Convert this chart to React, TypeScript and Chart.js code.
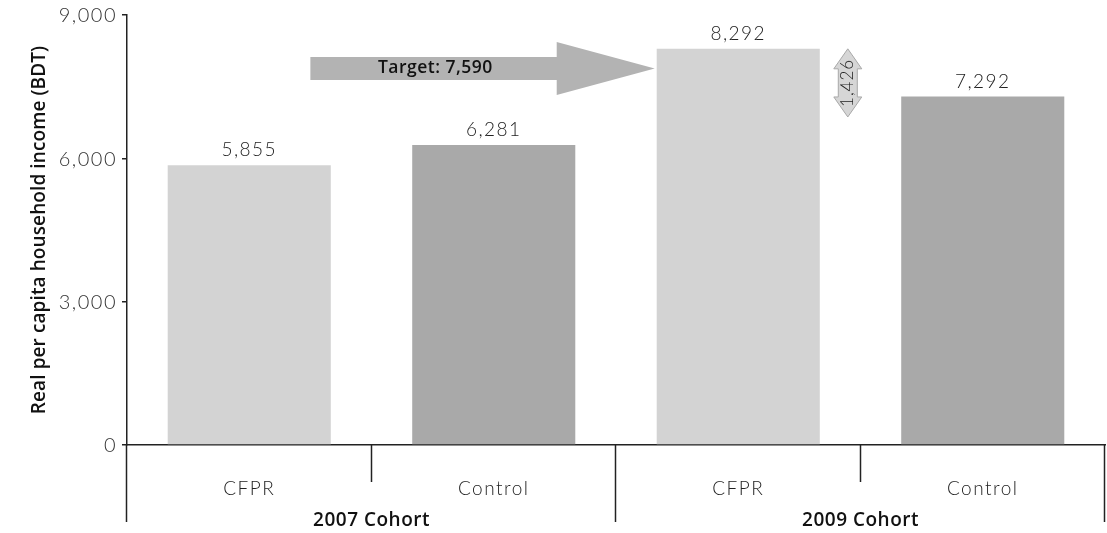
import React, { useEffect, useRef } from "react";
import { Chart, registerables } from "chart.js";

Chart.register(...registerables);

const categories = ["CFPR", "Control", "CFPR", "Control"];
const groups = ["2007 Cohort", "2009 Cohort"];
const values = [5855, 6281, 8292, 7292];
const barColors = ["#d3d3d3", "#a9a9a9", "#d3d3d3", "#a9a9a9"];
const yTicks = [0, 3000, 6000, 9000];
const targetLabel = "Target: 7,590";
const targetArrowLevel = 7880;
const difference = 1426;
const yTitle = "Real per capita household income (BDT)";

const LIGHT = "300 19px Lato, 'Open Sans', sans-serif";
const MED = (px: number) => `600 ${px}px 'Open Sans', 'Noto Sans', sans-serif`;

const fmt = (v: number) => v.toLocaleString("en-US");

function spaced(ctx: any, s: string) {
  try {
    ctx.letterSpacing = s;
  } catch (e) {}
}

const annotPlugin = {
  id: "annot",
  afterDraw(chart: any) {
    const ctx = chart.ctx;
    const area = chart.chartArea;
    const xs = chart.scales.x;
    const ys = chart.scales.y;
    const meta = chart.getDatasetMeta(0);
    const bars = meta.data;
    const catW = (area.right - area.left) / categories.length;
    ctx.save();

    // y tick labels
    ctx.fillStyle = "#333";
    ctx.font = "300 20px Lato, 'Open Sans', sans-serif";
    spaced(ctx, "1.5px");
    ctx.textAlign = "right";
    ctx.textBaseline = "middle";
    yTicks.forEach((v) => {
      ctx.fillText(fmt(v), area.left - 10, ys.getPixelForValue(v) + 1);
    });

    // value labels
    ctx.font = LIGHT;
    ctx.fillStyle = "#222";
    ctx.textAlign = "center";
    ctx.textBaseline = "alphabetic";
    bars.forEach((b: any, i: number) => {
      ctx.fillText(fmt(values[i]), b.x, b.y - 9);
    });

    // category labels
    ctx.textBaseline = "middle";
    categories.forEach((c, i) => {
      ctx.fillText(c, xs.getPixelForValue(i), area.bottom + 44);
    });
    spaced(ctx, "0.5px");
    ctx.font = MED(19);
    ctx.fillStyle = "#111";
    groups.forEach((g, gi) => {
      const x = (xs.getPixelForValue(gi * 2) + xs.getPixelForValue(gi * 2 + 1)) / 2;
      ctx.fillText(g, x, area.bottom + 76);
    });

    // separators
    ctx.strokeStyle = "#222";
    ctx.lineWidth = 1.5;
    for (let i = 0; i <= categories.length; i++) {
      const x = Math.round(area.left + i * catW) - 0.5;
      const outer = i % 2 === 0;
      ctx.beginPath();
      ctx.moveTo(x, area.bottom);
      ctx.lineTo(x, area.bottom + (outer ? 77 : 37));
      ctx.stroke();
    }

    // y title
    ctx.save();
    ctx.translate(40, (area.top + area.bottom) / 2);
    ctx.rotate(-Math.PI / 2);
    ctx.font = MED(19);
    spaced(ctx, "0.1px");
    ctx.fillStyle = "#111";
    ctx.textAlign = "center";
    ctx.textBaseline = "middle";
    ctx.fillText(yTitle, 0, 0);
    ctx.restore();

    // target arrow
    const b2: any = bars[2];
    const tipX = b2.x - b2.width / 2 - 2;
    const tailX = area.left + catW * 0.75;
    const cy = ys.getPixelForValue(targetArrowLevel);
    const headBase = tipX - 98;
    const sh = 11.5;
    const hh = 26.5;
    ctx.fillStyle = "#b3b3b3";
    ctx.beginPath();
    ctx.moveTo(tailX, cy - sh);
    ctx.lineTo(headBase, cy - sh);
    ctx.lineTo(headBase, cy - hh);
    ctx.lineTo(tipX, cy);
    ctx.lineTo(headBase, cy + hh);
    ctx.lineTo(headBase, cy + sh);
    ctx.lineTo(tailX, cy + sh);
    ctx.closePath();
    ctx.fill();
    ctx.fillStyle = "#111";
    ctx.font = MED(17.5);
    spaced(ctx, "0.5px");
    ctx.textAlign = "center";
    ctx.textBaseline = "middle";
    ctx.fillText(targetLabel, tailX + 125, cy);

    // difference double arrow
    const dx = b2.x + b2.width / 2 + 28;
    const yTop = ys.getPixelForValue(values[2]);
    const yBot = ys.getPixelForValue(values[2] - difference);
    const hl = 20;
    const sw = 9.5;
    const hw = 14;
    ctx.fillStyle = "#d6d6d6";
    ctx.strokeStyle = "#a8a8a8";
    ctx.lineWidth = 1;
    ctx.beginPath();
    ctx.moveTo(dx, yTop);
    ctx.lineTo(dx + hw, yTop + hl);
    ctx.lineTo(dx + sw, yTop + hl);
    ctx.lineTo(dx + sw, yBot - hl);
    ctx.lineTo(dx + hw, yBot - hl);
    ctx.lineTo(dx, yBot);
    ctx.lineTo(dx - hw, yBot - hl);
    ctx.lineTo(dx - sw, yBot - hl);
    ctx.lineTo(dx - sw, yTop + hl);
    ctx.lineTo(dx - hw, yTop + hl);
    ctx.closePath();
    ctx.fill();
    ctx.stroke();
    ctx.save();
    ctx.translate(dx, (yTop + yBot) / 2);
    ctx.rotate(-Math.PI / 2);
    ctx.fillStyle = "#222";
    ctx.font = "300 17px Lato, 'Open Sans', sans-serif";
    spaced(ctx, "1px");
    ctx.textAlign = "center";
    ctx.textBaseline = "middle";
    ctx.fillText(fmt(difference), 0, 0);
    ctx.restore();

    ctx.restore();
  },
};

export default function App() {
  const ref = useRef<HTMLCanvasElement>(null);
  useEffect(() => {
    if (!ref.current) return;
    const chart = new Chart(ref.current, {
      type: "bar",
      data: {
        labels: categories,
        datasets: [
          {
            data: values,
            backgroundColor: barColors,
            borderWidth: 0,
            barPercentage: 0.667,
            categoryPercentage: 1,
          },
        ],
      },
      options: {
        animation: false,
        responsive: false,
        layout: { padding: { top: 15, right: 2, left: 0, bottom: 0 } },
        plugins: { legend: { display: false }, tooltip: { enabled: false } },
        scales: {
          x: {
            ticks: { display: false },
            grid: { display: false },
            border: { display: true, color: "#222", width: 1.5 },
            afterFit(s: any) {
              s.height = 88;
            },
          },
          y: {
            min: 0,
            max: 9000,
            afterBuildTicks(s: any) {
              s.ticks = yTicks.map((v) => ({ value: v }));
            },
            ticks: { display: false },
            grid: { drawOnChartArea: false, drawTicks: true, tickLength: 5, color: "#222", lineWidth: 1.5 },
            border: { display: true, color: "#222", width: 1.5 },
            afterFit(s: any) {
              s.width = 127;
            },
          },
        },
      },
      plugins: [annotPlugin],
    });
    return () => chart.destroy();
  }, []);
  return (
    <div style={{ position: "fixed", left: 0, top: 0, width: 1107, height: 533, background: "#fff" }}>
      <canvas ref={ref} width={1107} height={533} style={{ width: 1107, height: 533 }} />
    </div>
  );
}
